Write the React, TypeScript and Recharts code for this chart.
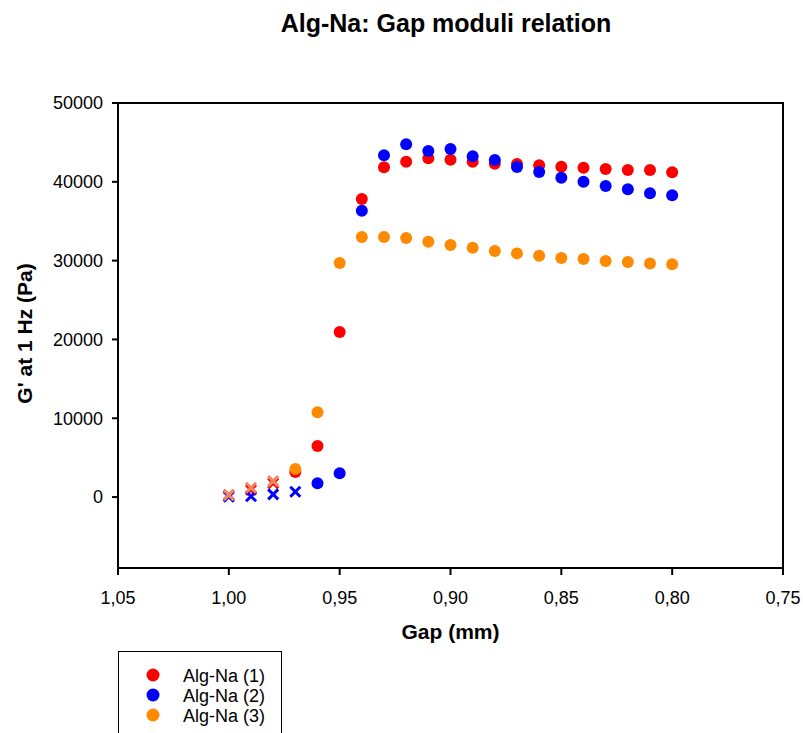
import React from 'react';
import { ScatterChart, Scatter, XAxis, YAxis, ReferenceArea } from 'recharts';

const GAP = [1.0, 0.99, 0.98, 0.97, 0.96, 0.95, 0.94, 0.93, 0.92, 0.91, 0.9, 0.89, 0.88, 0.87, 0.86, 0.85, 0.84, 0.83, 0.82, 0.81, 0.8];
const SERIES_1 = [250, 900, 1750, 3170, 6470, 20940, 37820, 41840, 42550, 42980, 42800, 42550, 42300, 42260, 42090, 41920, 41790, 41620, 41500, 41500, 41200];
const SERIES_2 = [40, 100, 340, 680, 1740, 3010, 36330, 43360, 44760, 43910, 44160, 43230, 42770, 41880, 41240, 40520, 40010, 39470, 39050, 38540, 38290];
const SERIES_3 = [250, 1180, 2030, 3550, 10750, 29700, 33000, 33000, 32870, 32400, 31980, 31640, 31220, 30920, 30620, 30330, 30200, 29950, 29820, 29650, 29530];
const NAMES = ['Alg-Na (1)', 'Alg-Na (2)', 'Alg-Na (3)'];
const EXCLUDED_COUNT = [3, 4, 3];
const COLORS = ['#FF0000', '#0000FF', '#FF8A00'];
const CROSS_COLORS = ['#FF0000', '#0000FF', '#F4845C'];
const X_TICKS = [1.05, 1.0, 0.95, 0.9, 0.85, 0.8, 0.75];
const Y_TICKS = [0, 10000, 20000, 30000, 40000, 50000];
const TITLE = 'Alg-Na: Gap moduli relation';
const X_LABEL = 'Gap (mm)';
const Y_LABEL = "G' at 1 Hz (Pa)";

const FONT = '"Liberation Sans", Arial, sans-serif';

const ALL = [SERIES_1, SERIES_2, SERIES_3];
const seriesData = ALL.map((vals, s) =>
  GAP.map((g, i) => ({ gap: g, value: vals[i], excluded: i < EXCLUDED_COUNT[s] }))
);

const makeShape = (color: string, crossColor: string) => (props: any) => {
  const { cx, cy, payload } = props;
  if (cx == null || cy == null) return <g />;
  if (payload && payload.excluded) {
    const d = 5;
    return (
      <g>
        <line x1={cx - d} y1={cy - d} x2={cx + d} y2={cy + d} stroke={crossColor} strokeWidth={3} />
        <line x1={cx - d} y1={cy + d} x2={cx + d} y2={cy - d} stroke={crossColor} strokeWidth={3} />
      </g>
    );
  }
  return <circle cx={cx} cy={cy} r={6} fill={color} />;
};

const XLabel = (props: any) => {
  const vb = props.viewBox || { x: 118, y: 568, width: 665, height: 165 };
  return (
    <text x={vb.x + vb.width / 2} y={vb.y + 71} textAnchor="middle" fontFamily={FONT} fontSize={21} fontWeight="bold" fill="#000">
      {X_LABEL}
    </text>
  );
};

const YLabel = (props: any) => {
  const vb = props.viewBox || { x: 0, y: 103, width: 118, height: 465 };
  const x = 32;
  const y = vb.y + vb.height / 2 - 2;
  return (
    <text x={x} y={y} transform={`rotate(-90 ${x} ${y})`} textAnchor="middle" fontFamily={FONT} fontSize={21} fontWeight="bold" fill="#000">
      {Y_LABEL}
    </text>
  );
};

const fmtX = (v: number) => v.toFixed(2).replace('.', ',');
const fmtY = (v: number) => String(Math.round(v));

export default function App() {
  return (
    <div style={{ position: 'absolute', left: 0, top: 0, width: 803, height: 733, overflow: 'hidden', background: '#fff' }}>
      <ScatterChart width={803} height={733} margin={{ top: 103, right: 20, bottom: 0, left: 0 }}>
        <XAxis
          dataKey="gap"
          type="number"
          domain={[0.75, 1.05]}
          reversed
          ticks={X_TICKS}
          interval={0}
          allowDataOverflow
          height={165}
          tickSize={7}
          tickMargin={16}
          tickFormatter={fmtX}
          tick={{ fill: '#000', fontSize: 18, fontFamily: FONT }}
          axisLine={{ stroke: '#000', strokeWidth: 2 }}
          tickLine={{ stroke: '#000', strokeWidth: 2 }}
          label={<XLabel />}
        />
        <YAxis
          dataKey="value"
          type="number"
          domain={[-9000, 50000]}
          ticks={Y_TICKS}
          interval={0}
          allowDataOverflow
          width={118}
          tickSize={6}
          tickMargin={9}
          tickFormatter={fmtY}
          tick={{ fill: '#000', fontSize: 18, fontFamily: FONT }}
          axisLine={{ stroke: '#000', strokeWidth: 2 }}
          tickLine={{ stroke: '#000', strokeWidth: 2 }}
          label={<YLabel />}
        />
        <ReferenceArea x1={0.75} x2={1.05} y1={-9000} y2={50000} fill="none" fillOpacity={0} stroke="#000" strokeWidth={2} />
        {seriesData.map((d, s) => (
          <Scatter
            key={NAMES[s]}
            name={NAMES[s]}
            data={d}
            fill={COLORS[s]}
            isAnimationActive={false}
            shape={makeShape(COLORS[s], CROSS_COLORS[s])}
          />
        ))}
      </ScatterChart>
      <svg width={803} height={733} style={{ position: 'absolute', left: 0, top: 0, pointerEvents: 'none' }}>
        <text x={446} y={32} textAnchor="middle" fontFamily={FONT} fontSize={25} fontWeight="bold" fill="#000">
          {TITLE}
        </text>
        <rect x={118.5} y={651.5} width={163} height={120} fill="none" stroke="#000" strokeWidth={1} />
        {NAMES.map((n, i) => (
          <g key={n}>
            <circle cx={153} cy={675 + i * 20} r={6.5} fill={COLORS[i]} />
            <text x={183} y={681.5 + i * 20} fontFamily={FONT} fontSize={18} fill="#000">
              {n}
            </text>
          </g>
        ))}
      </svg>
    </div>
  );
}
